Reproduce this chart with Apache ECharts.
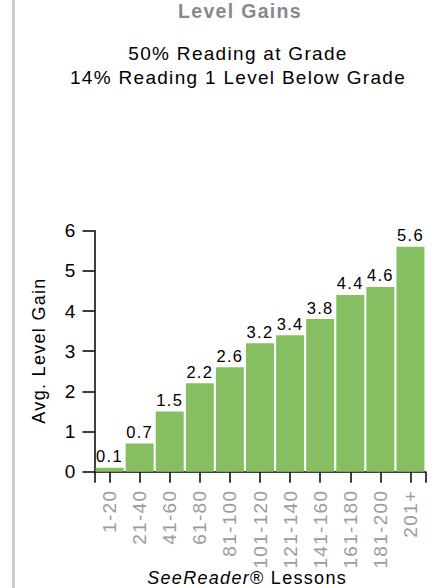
<!DOCTYPE html>
<html>
<head>
<meta charset="utf-8">
<script src="https://cdn.jsdelivr.net/npm/echarts@6/dist/echarts.min.js"></script>
<style>
  html, body { margin: 0; padding: 0; background: #fff; }
  #chart { width: 434px; height: 588px; }
  #chart svg text { letter-spacing: 1.3px; }
</style>
</head>
<body>
<div id="chart"></div>
<script>
const categories = ['1-20', '21-40', '41-60', '61-80', '81-100', '101-120', '121-140', '141-160', '161-180', '181-200', '201+'];
const gains = [0.1, 0.7, 1.5, 2.2, 2.6, 3.2, 3.4, 3.8, 4.4, 4.6, 5.6];
const yTicks = [0, 1, 2, 3, 4, 5, 6];
const titleText = 'Level Gains';
const subtitleLines = ['50% Reading at Grade', '14% Reading 1 Level Below Grade'];
const yName = 'Avg. Level Gain';
const xNameParts = ['SeeReader', '® Lessons'];

const FONT = "'Liberation Sans', Arial, Helvetica, sans-serif";
const chart = echarts.init(document.getElementById('chart'), null, { renderer: 'svg' });

chart.setOption({
  animation: false,
  backgroundColor: '#ffffff',
  textStyle: { fontFamily: FONT },
  grid: { left: 94.5, top: 230.7, width: 331, height: 241, containLabel: false, outerBoundsMode: 'none' },
  xAxis: [
    {
      type: 'category',
      data: categories,
      axisLine: { show: true, lineStyle: { color: '#000', width: 1.5 } },
      axisTick: { show: true, alignWithLabel: true, length: 11, lineStyle: { color: '#000', width: 1.5 } },
      axisLabel: { rotate: 90, margin: 18, interval: 0, color: '#9c9c9c', fontSize: 19, fontFamily: FONT },
      splitLine: { show: false }
    },
    {
      type: 'value',
      position: 'bottom',
      min: 0, max: 1, interval: 1,
      axisLine: { show: false },
      axisTick: { show: true, length: 11, lineStyle: { color: '#000', width: 1.5 } },
      axisLabel: { show: false },
      splitLine: { show: false }
    }
  ],
  yAxis: {
    type: 'value',
    min: yTicks[0], max: yTicks[yTicks.length - 1], interval: 1,
    axisLine: { show: true, lineStyle: { color: '#000', width: 1.5 } },
    axisTick: { show: true, length: 12, lineStyle: { color: '#000', width: 1.5 } },
    axisLabel: { margin: 18, color: '#000', fontSize: 19, fontFamily: FONT },
    splitLine: { show: false }
  },
  series: [{
    type: 'bar',
    xAxisIndex: 0,
    data: gains,
    barCategoryGap: '7%',
    itemStyle: { color: '#86bf62' },
    label: { show: true, position: 'top', distance: 3, color: '#000', fontSize: 16.5, fontFamily: FONT }
  }],
  graphic: [
    { type: 'rect', left: 12, top: 0, shape: { width: 3, height: 588 }, style: { fill: '#cfcfcf' }, silent: true },
    { type: 'text', x: 240, y: 10.5, style: { text: titleText, align: 'center', verticalAlign: 'middle', fill: '#88888d', font: "bold 19.5px " + FONT } },
    { type: 'text', x: 238, y: 53, style: { text: subtitleLines[0], align: 'center', verticalAlign: 'middle', fill: '#000', font: "19px " + FONT } },
    { type: 'text', x: 238, y: 77, style: { text: subtitleLines[1], align: 'center', verticalAlign: 'middle', fill: '#000', font: "19px " + FONT } },
    { type: 'text', x: 39, y: 350.5, rotation: Math.PI / 2, style: { text: yName, align: 'center', verticalAlign: 'middle', fill: '#000', font: "18px " + FONT } },
    { type: 'text', x: 250, y: 578, style: { text: xNameParts[0], align: 'right', verticalAlign: 'middle', fill: '#000', font: "italic 18px " + FONT } },
    { type: 'text', x: 250, y: 578, style: { text: xNameParts[1], align: 'left', verticalAlign: 'middle', fill: '#000', font: "18px " + FONT } }
  ]
});
</script>
</body>
</html>
